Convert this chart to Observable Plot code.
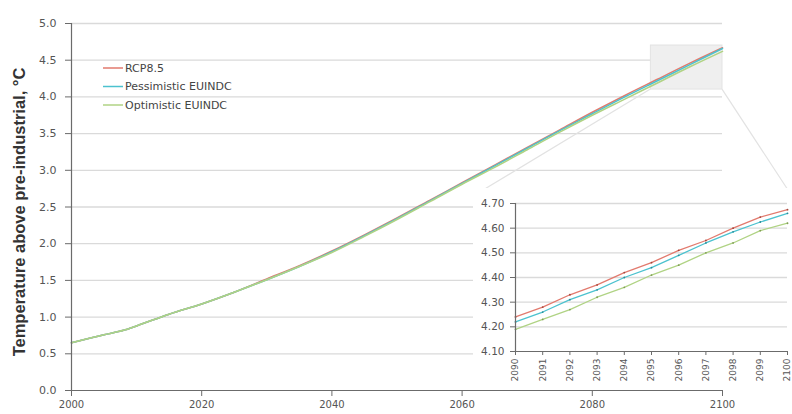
<!DOCTYPE html>
<html><head><meta charset="utf-8">
<script src="https://cdn.jsdelivr.net/npm/d3@7"></script>
<script src="https://cdn.jsdelivr.net/npm/@observablehq/plot@0.6"></script>
<style>
body{margin:0;background:#fff;}
#wrap{position:relative;width:792px;height:414px;overflow:hidden;font-family:"DejaVu Sans",sans-serif;background:#fff;}
#wrap > svg{position:absolute;}
</style></head><body><div id="wrap"></div>
<script>
// ---- data ----
const seriesNames = ["RCP8.5", "Pessimistic EUINDC", "Optimistic EUINDC"];
const seriesColors = ["#e27a6e", "#4cc2cf", "#b0d384"];
const dotColors = ["#a0463c", "#2a8a96", "#7f9c55"];

const years = [2000,2005,2008,2010,2015,2020,2025,2030,2035,2040,2045,2050,2055,2060,2065,2070,2075,2080,2085,2090,2095,2100];
const rcp85 =       [0.65,0.76,0.82,0.88,1.04,1.18,1.34,1.52,1.70,1.90,2.12,2.35,2.59,2.83,3.07,3.31,3.55,3.79,4.02,4.24,4.46,4.67];
const pessimistic = [0.65,0.76,0.82,0.88,1.04,1.18,1.34,1.51,1.69,1.89,2.11,2.34,2.58,2.82,3.06,3.30,3.54,3.77,4.00,4.22,4.44,4.66];
const optimistic =  [0.65,0.76,0.82,0.88,1.04,1.18,1.34,1.51,1.69,1.88,2.10,2.33,2.57,2.81,3.04,3.28,3.52,3.75,3.97,4.19,4.41,4.62];

const insetYears = [2090,2091,2092,2093,2094,2095,2096,2097,2098,2099,2100];
const insetRcp85 =       [4.24,4.28,4.33,4.37,4.42,4.46,4.51,4.55,4.60,4.645,4.675];
const insetPessimistic = [4.22,4.26,4.31,4.35,4.40,4.44,4.49,4.54,4.585,4.625,4.66];
const insetOptimistic =  [4.19,4.23,4.27,4.32,4.36,4.41,4.45,4.50,4.54,4.59,4.62];

const xTicks = [2000,2020,2040,2060,2080,2100];
const yTicks = [0,0.5,1,1.5,2,2.5,3,3.5,4,4.5,5];
const insetYTicks = [4.1,4.2,4.3,4.4,4.5,4.6,4.7];
const zoomYears = [2089, 2100];
const zoomTemps = [4.1, 4.7];
const yTitle = "Temperature above pre-industrial, °C";

// ---- tables ----
const mainSeries = [rcp85, pessimistic, optimistic];
const insetSeries = [insetRcp85, insetPessimistic, insetOptimistic];
const mainData = seriesNames.flatMap((s, i) => years.map((y, j) => ({series: s, year: y, value: mainSeries[i][j]})));
const insetData = seriesNames.flatMap((s, i) => insetYears.map((y, j) => ({series: s, year: y, value: insetSeries[i][j]})));

const wrap = document.getElementById("wrap");
const W = 792, H = 414;
const axisColor = "#6b6b6b";
const gridColor = "#dadada";
const textColor = "#555";

// ---- main chart ----
const main = Plot.plot({
  width: W, height: H,
  marginLeft: 71, marginRight: 70, marginTop: 23, marginBottom: 24,
  style: {fontFamily: "DejaVu Sans", fontSize: "11px", color: textColor, background: "transparent", overflow: "visible"},
  x: {domain: [2000, 2100]},
  y: {domain: [0, 5]},
  color: {domain: seriesNames, range: seriesColors},
  marks: [
    Plot.ruleY(yTicks.filter(d => d > 0), {stroke: gridColor, strokeWidth: 1.3}),
    Plot.rect([0], {x1: zoomYears[0], x2: zoomYears[1], y1: zoomTemps[0], y2: zoomTemps[1], fill: "#efefef", stroke: "#e3e3e3"}),
    Plot.line(mainData, {x: "year", y: "value", z: "series", stroke: "series", strokeWidth: 1.6, curve: "monotone-x"}),
    Plot.axisX({ticks: xTicks, tickFormat: d => String(d), tickSize: 6, tickPadding: 4, fontSize: 10, stroke: axisColor, label: null}),
    Plot.axisY({ticks: yTicks, tickFormat: d => d.toFixed(1), tickSize: 6, tickPadding: 9, fontSize: 11, stroke: axisColor, label: null}),
    Plot.ruleX([2000], {stroke: axisColor, strokeWidth: 1.2}),
    Plot.ruleY([0], {stroke: axisColor, strokeWidth: 1.2}),
    Plot.text([yTitle], {frameAnchor: "left", dx: -52, dy: 5, rotate: -90, textAnchor: "middle", fontWeight: "bold", fontSize: 16.5, fill: "#333", fontFamily: "Liberation Sans"})
  ]
});
main.style.left = "0px"; main.style.top = "0px";
wrap.appendChild(main);

// ---- inset placement ----
const insetLeft = 473, insetTop = 188, insetW = 319, insetH = 196;

// ---- connectors and legend overlay ----
const sx = main.scale("x"), sy = main.scale("y");
const ov = d3.create("svg").attr("width", W).attr("height", H).style("left", "0px").style("top", "0px");
const bx0 = sx.apply(zoomYears[0]), bx1 = sx.apply(zoomYears[1]), by = sy.apply(zoomTemps[0]);
ov.append("line").attr("x1", bx0).attr("y1", by).attr("x2", insetLeft + 10).attr("y2", insetTop + 2).attr("stroke", "#e2e2e2").attr("stroke-width", 1.2);
ov.append("line").attr("x1", bx1).attr("y1", by).attr("x2", insetLeft + insetW - 4).attr("y2", insetTop + 2).attr("stroke", "#e2e2e2").attr("stroke-width", 1.2);
const lg = ov.append("g").attr("font-family", "DejaVu Sans").attr("font-size", 11).attr("fill", "#444");
seriesNames.forEach((s, i) => {
  const y = 68 + i * 18.5;
  lg.append("line").attr("x1", 103).attr("x2", 123).attr("y1", y).attr("y2", y).attr("stroke", seriesColors[i]).attr("stroke-width", 1.5);
  lg.append("text").attr("x", 125).attr("y", y).attr("dy", "0.35em").text(s);
});
wrap.appendChild(ov.node());

// ---- inset chart ----
const inset = Plot.plot({
  width: insetW, height: insetH,
  marginLeft: 42, marginRight: 5, marginTop: 15, marginBottom: 33,
  style: {fontFamily: "DejaVu Sans", fontSize: "10px", color: textColor, background: "#fff", overflow: "visible"},
  x: {domain: [2090, 2100]},
  y: {domain: [4.1, 4.7]},
  color: {domain: seriesNames, range: seriesColors},
  marks: [
    Plot.ruleY(insetYTicks.filter(d => d > 4.1), {stroke: gridColor, strokeWidth: 1.3}),
    Plot.line(insetData, {x: "year", y: "value", z: "series", stroke: "series", strokeWidth: 1.3}),
    Plot.dot(insetData, {x: "year", y: "value", r: 0.9, fill: d => dotColors[seriesNames.indexOf(d.series)], stroke: null}),
    Plot.axisX({ticks: insetYears, tickFormat: d => String(d), tickSize: 4, tickPadding: 3, tickRotate: -90, fontSize: 9, stroke: axisColor, label: null}),
    Plot.axisY({ticks: insetYTicks, tickFormat: d => d.toFixed(2), tickSize: 5, tickPadding: 6, fontSize: 10.5, stroke: axisColor, label: null}),
    Plot.ruleX([2090], {stroke: axisColor, strokeWidth: 1.2}),
    Plot.ruleY([4.1], {stroke: axisColor, strokeWidth: 1.2})
  ]
});
inset.style.left = insetLeft + "px"; inset.style.top = insetTop + "px";
wrap.appendChild(inset);
</script></body></html>
